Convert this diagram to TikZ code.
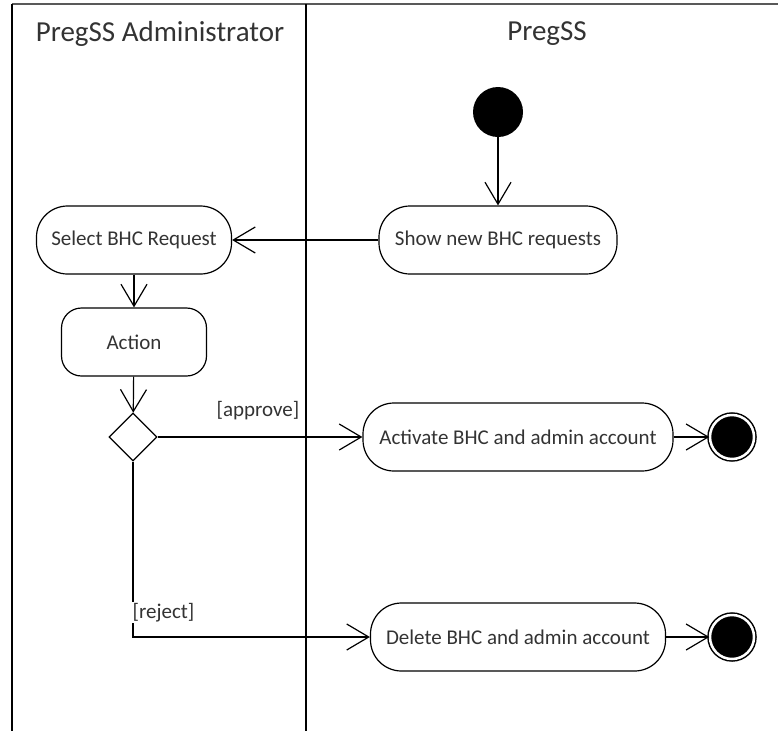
\documentclass[tikz,border=0pt]{standalone}
\usepackage{fontspec}
\setmainfont{Carlito}
\usetikzlibrary{arrows.meta,shapes.geometric}

\begin{document}
\begin{tikzpicture}[x=1pt,y=-1pt]
    \tikzset{
      act/.style = {draw, rounded corners=31pt, minimum height=68pt,
      minimum width=#1, inner sep=0pt, line width=1.2pt,
      text=black!80, font=\fontsize{21}{25}\selectfont},
      act/.default = 200pt, % width of the action box
      choice/.style = {diamond, draw, minimum size=48pt,
      inner sep=0pt, line width=1.2pt},
      init/.style = {circle, fill, minimum size=50pt, inner sep=0pt},
      stop/.style = {circle, draw, fill, double=white,
      double distance=2.5pt, line width=1.5pt,
      minimum size=44pt, inner sep=0pt},
      lane/.style = {line width=1.5pt},
      head/.style = {text=black!80, font=\fontsize{29}{34}\selectfont},
      guard/.style = {text=black!80, inner sep=1pt,
      font=\fontsize{21}{25}\selectfont},
      flow/.style = {line width=1.2pt,
      -{Straight Barb[length=22pt, width=26pt]}}
    }

    \useasboundingbox (0,0) rectangle (778,731);

    % swimlanes
    \draw[lane, black!65] (778,4) -- (12,4);
    \draw[lane] (12,4) -- (12,731);
    \draw[lane] (306,4) -- (306,731);
    \node[head] (admin) at (160,34) {PregSS Administrator};
    \node[head] (sys) at (547,34) {PregSS};

    \node[init] (start) at (498,112) {};
    \node[act=238pt] (show) at (498,240) {Show new BHC requests};
    \node[act=195pt] (select) at (134,240) {Select BHC Request};
    \node[act=145pt, rounded corners=20pt] (action) at (134,342) {Action};
    \node[choice] (dec) at (133,437) {};
    \node[act=310pt] (activate) at (518,437) {Activate BHC and admin account};
    \node[stop] (end1) at (732,437) {};
    \node[act=295pt] (delete) at (518,637) {Delete BHC and admin account};
    \node[stop] (end2) at (732,637) {};

    \draw[flow]
      (start) edge (show)
      (show) edge (select)
      (select) edge (action)
      (action) edge (dec)
      (activate) edge (end1)
      (delete) edge (end2)
    ;
    \draw[flow] (dec) -- node[guard, pos=0.7, anchor=south east,
      yshift=16pt] {[approve]} (activate);
    \draw[flow] (dec) |- node[guard, pos=0.43, anchor=west, fill=white,
      xshift=-2pt] {[reject]} (delete);
  \end{tikzpicture}
\end{document}
